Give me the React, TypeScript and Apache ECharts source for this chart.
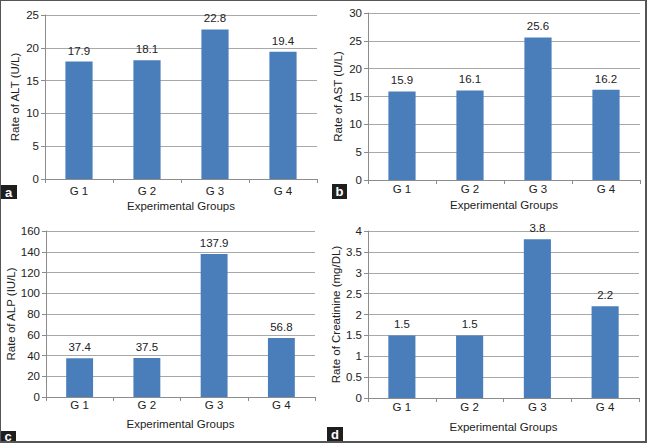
import React, { useEffect, useRef } from "react";
import * as echarts from "echarts";

const groups = ["G 1", "G 2", "G 3", "G 4"];
const altValues = [17.9, 18.1, 22.8, 19.4];
const astValues = [15.9, 16.1, 25.6, 16.2];
const alpValues = [37.4, 37.5, 137.9, 56.8];
const creatinineValues = [1.5, 1.5, 3.8, 2.2];
const yTitles = ["Rate of ALT (U/L)", "Rate of AST (U/L)", "Rate of ALP (IU/L)", "Rate of Creatinine (mg/DL)"];
const xTitle = "Experimental Groups";
const yScales = [
  { max: 25, interval: 5 },
  { max: 30, interval: 5 },
  { max: 160, interval: 20 },
  { max: 4, interval: 0.5 },
];
const panelLetters = ["a", "b", "c", "d"];

const FONT = '"Liberation Sans", Arial, sans-serif';
const TEXT = "#222";
const BAR = "#4a7ebb";

export default function App() {
  const ref = useRef<HTMLDivElement>(null);
  useEffect(() => {
    if (!ref.current) return;
    const chart = echarts.init(ref.current, undefined, { renderer: "svg" });
    const values = [altValues, astValues, alpValues, creatinineValues];
    const grids = [
      { left: 45, top: 15, width: 272, height: 164 },
      { left: 368, top: 13, width: 272, height: 167 },
      { left: 46, top: 231, width: 269, height: 166 },
      { left: 368, top: 231, width: 271, height: 167 },
    ];
    const yNameGaps = [24, 24, 28, 26];
    const xNameGaps = [21, 19, 21, 23];
    const xLabelMargins = [6, 3, 2, 3];
    const boxes = [
      { x: 0, y: 185, w: 17, h: 14 },
      { x: 332, y: 184, w: 15, h: 15 },
      { x: 0, y: 431, w: 16, h: 11 },
      { x: 327, y: 427, w: 16, h: 15 },
    ];
    const graphics: any[] = [];
    boxes.forEach((b, i) => {
      graphics.push({
        type: "rect",
        shape: { x: b.x, y: b.y, width: b.w, height: b.h },
        style: { fill: "#1e1e1e" },
        z: 10,
      });
      graphics.push({
        type: "text",
        x: b.x + b.w / 2,
        y: b.y + b.h / 2,
        style: {
          text: panelLetters[i],
          fill: "#fff",
          font: `bold 13px ${FONT}`,
          textAlign: "center",
          textVerticalAlign: "middle",
        },
        z: 11,
      });
    });
    graphics.push({
      type: "rect",
      shape: { x: 0, y: 0, width: 646, height: 442 },
      style: { fill: "none", stroke: "#555", lineWidth: 2 },
      z: 12,
    });

    chart.setOption({
      animation: false,
      backgroundColor: "#fff",
      textStyle: { fontFamily: FONT },
      grid: grids.map((g) => ({ ...g, containLabel: false })),
      xAxis: grids.map((_, i) => ({
        type: "category",
        gridIndex: i,
        data: groups,
        name: xTitle,
        nameLocation: "middle",
        nameGap: xNameGaps[i],
        nameTextStyle: { color: TEXT, fontSize: 11.5, fontFamily: FONT },
        axisLine: { lineStyle: { color: "#8c8c8c", width: 1 } },
        axisTick: { show: true, length: 4, lineStyle: { color: "#8c8c8c" } },
        axisLabel: { color: TEXT, fontSize: 11.5, margin: xLabelMargins[i], fontFamily: FONT },
        splitLine: { show: false },
      })),
      yAxis: grids.map((_, i) => ({
        type: "value",
        gridIndex: i,
        min: 0,
        max: yScales[i].max,
        interval: yScales[i].interval,
        name: yTitles[i],
        nameLocation: "middle",
        nameGap: yNameGaps[i],
        nameTextStyle: { color: TEXT, fontSize: 11.5, fontFamily: FONT },
        axisLine: { show: true, lineStyle: { color: "#8c8c8c", width: 1 } },
        axisTick: { show: true, length: 4, lineStyle: { color: "#8c8c8c" } },
        axisLabel: { color: TEXT, fontSize: 11.5, margin: 6, fontFamily: FONT },
        splitLine: { show: true, lineStyle: { color: "#a8a8a8", width: 1 } },
      })),
      series: values.map((v, i) => ({
        type: "bar",
        xAxisIndex: i,
        yAxisIndex: i,
        data: v,
        barWidth: "40%",
        itemStyle: { color: BAR },
        label: {
          show: true,
          position: "top",
          distance: 5,
          color: TEXT,
          fontSize: 11.5,
          fontFamily: FONT,
        },
      })),
      graphic: graphics,
    });
    return () => chart.dispose();
  }, []);
  return (
    <div
      ref={ref}
      style={{ position: "fixed", left: 0, top: 0, width: 647, height: 443, background: "#fff" }}
    />
  );
}
